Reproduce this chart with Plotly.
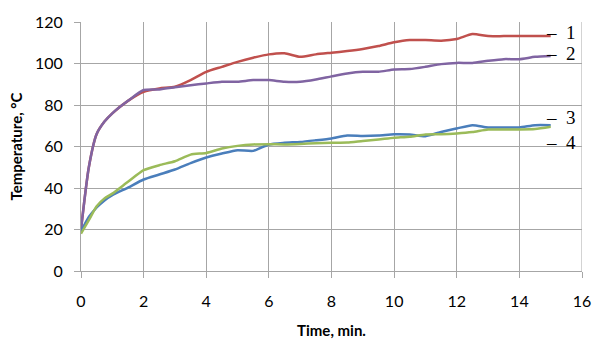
import plotly.graph_objects as go

time = [0, 0.25, 0.5, 0.75, 1, 1.5, 2, 2.5, 3, 3.5, 4, 4.5, 5, 5.5, 6, 6.5, 7, 7.5,
        8, 8.5, 9, 9.5, 10, 10.5, 11, 11.5, 12, 12.5, 13, 13.5, 14, 14.5, 15]

curve1 = [20, 50, 66, 72, 76, 82, 86.4, 88, 88.8, 92, 96, 98.4, 100.8, 102.8, 104.4, 104.9, 103.2, 104.4,
          105.2, 106, 107, 108.4, 110.2, 111.3, 111.3, 111, 111.8, 114.2, 113.2, 113.2, 113.2, 113.2, 113.2]
curve2 = [20, 50, 66, 72, 76, 82, 87.2, 87.5, 88.5, 89.5, 90.4, 91.2, 91.2, 92, 92, 91.2, 91.2, 92.3,
          93.8, 95.2, 96, 96, 97.1, 97.3, 98.4, 99.7, 100.3, 100.3, 101.3, 102.1, 102.1, 103.2, 103.6]
curve3 = [19, 26, 30.6, 34, 36.5, 40.2, 44.1, 46.5, 48.9, 52, 54.7, 56.6, 58.2, 57.9, 61, 61.8, 62.2, 63,
          63.9, 65.3, 65.1, 65.3, 65.9, 65.8, 65, 67, 68.7, 70.3, 69.2, 69.2, 69.2, 70.3, 70.3]
curve4 = [18, 24.5, 31.2, 35, 37.3, 43, 48.6, 51, 52.9, 56.1, 56.9, 59, 60.3, 61, 61.1, 61, 61.2, 61.6,
          61.8, 61.9, 62.7, 63.4, 64.2, 64.7, 65.8, 65.9, 66.3, 67, 68.2, 68.2, 68.2, 68.4, 69.5]

labels = ["–  1", "–  2", "–  3", "–  4"]
label_y = [115.1, 105, 74.1, 62.1]

series = [
    (curve1, "#C0504D"),
    (curve2, "#8064A2"),
    (curve3, "#4A7EBB"),
    (curve4, "#9BBB59"),
]

fig = go.Figure()
for vals, col in series:
    fig.add_trace(go.Scatter(x=time, y=vals, mode="lines",
                             line=dict(color=col, width=2.5, shape="spline", smoothing=0.6),
                             showlegend=False, hoverinfo="skip"))

for lab, ly in zip(labels, label_y):
    fig.add_annotation(x=14.8, y=ly, xref="x", yref="y", text=lab, showarrow=False,
                       xanchor="left", yanchor="middle",
                       font=dict(family="Liberation Serif", size=19, color="#000000"))

grid = "#A6A6A6"
fig.update_layout(
    width=592, height=340,
    margin=dict(l=81, r=10, t=22, b=69),
    paper_bgcolor="white", plot_bgcolor="white",
    font=dict(family="Lato", size=16, color="#000000"),
    xaxis=dict(range=[0, 16], tickvals=list(range(0, 17, 2)), showgrid=True, gridcolor=grid, gridwidth=1,
               zeroline=False, showline=True, linecolor=grid, ticks="outside", ticklen=6, tickcolor=grid,
               ticklabelstandoff=10, automargin=False,
               title=dict(text="<b>Time, min.</b>", font=dict(family="Lato", size=15), standoff=16)),
    yaxis=dict(range=[0, 120], tickvals=list(range(0, 121, 20)), showgrid=True, gridcolor=grid, gridwidth=1,
               zeroline=False, showline=True, linecolor=grid, ticks="outside", ticklen=6, tickcolor=grid,
               ticklabelstandoff=8, automargin=False,
               title=dict(text="<b>Temperature, °C</b>", font=dict(family="Lato", size=15), standoff=8)),
)
fig.add_shape(type="line", xref="x", yref="paper", x0=16, x1=16, y0=0, y1=1, line=dict(color=grid, width=1))

fig.write_html("out.html", config={"displayModeBar": False},
               post_script="document.body.style.margin='0';document.body.style.overflow='hidden';")
